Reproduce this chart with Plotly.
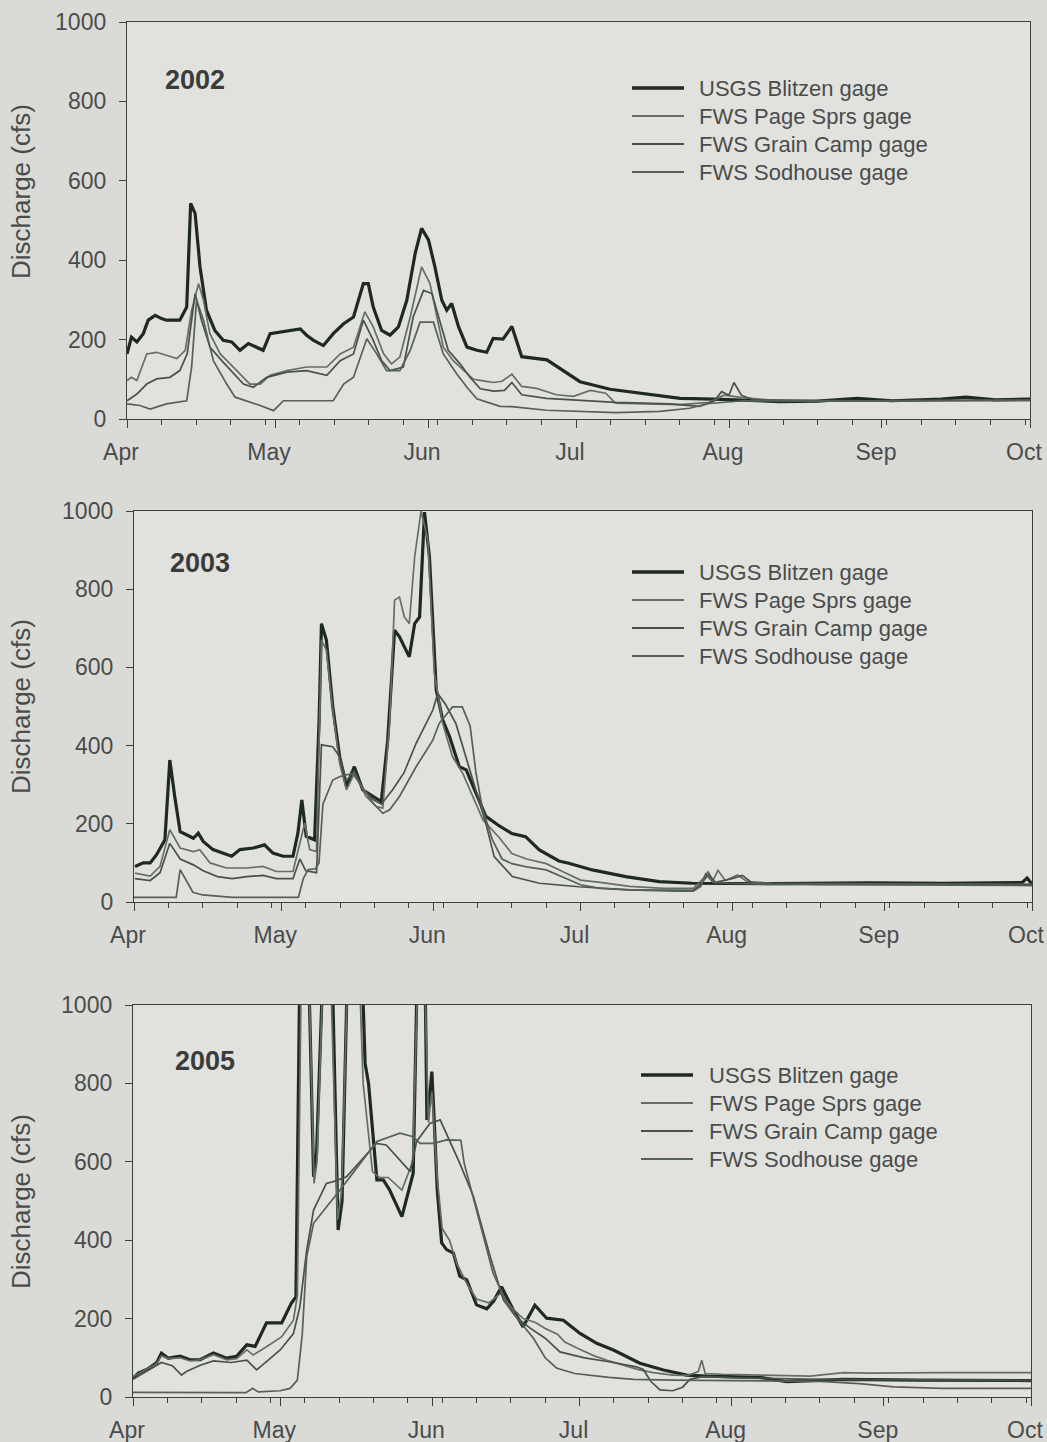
import pandas as pd
import plotly.graph_objects as go

# ---------------- DATA (day offset from Apr 1, discharge cfs) ----------------
years = [2002, 2003, 2005]
series_names = ["USGS Blitzen gage", "FWS Page Sprs gage", "FWS Grain Camp gage", "FWS Sodhouse gage"]
y_ticks = [0, 200, 400, 600, 800, 1000]

blitzen_2002 = [(0,164),(0.9,206),(2,194),(3.3,215),(4.3,249),(5.7,261),(7,253),(8,249),(10.7,249),(12.1,282),
                (12.9,543),(13.8,518),(14.8,383),(16.1,274),(17.8,223),(19.5,198),(21.2,194),(22.9,173),(24.6,190),
                (26.3,181),(27.6,173),(29,215),(31,219),(33,223),(35.1,227),(36.4,211),(37.8,198),(39.8,185),
                (41.8,215),(43.9,240),(45.9,257),(47.9,341),(48.9,341),(49.9,282),(51.6,223),(53.3,211),(55,232),
                (56.7,299),(58.4,417),(59.7,480),(61.1,451),(62.4,383),(63.8,299),(64.8,274),(65.8,291),(67.2,232),
                (68.9,181),(70.9,173),(72.9,168),(74.2,203),(76.2,201),(78,233),(80,157),(85.1,149),(91.8,94),
                (97.9,75),(104.6,65),(112.1,52),(118.8,50),(125,48),(132.3,44),(140,45),(148,52),(155,46),
                (165,50),(170,55),(176,48),(183,50)]
page_2002 = [(0,97),(0.9,105),(2,97),(4,164),(6,168),(8,160),(10.1,152),(11.8,173),(13.1,274),(14.5,341),
             (15.5,299),(16.8,215),(18.9,164),(20.9,139),(22.9,114),(24.9,88),(27,88),(29,110),(32.4,122),
             (36.4,131),(40.5,131),(43.2,164),(45.9,181),(48.2,270),(49.9,232),(52,164),(53.6,139),(55.3,156),
             (57.4,257),(59.7,383),(61.4,341),(62.8,257),(64.1,181),(66.1,147),(68.2,122),(70.2,100),(72.2,96),
             (74.3,92),(76,95),(78,113),(80,82),(83,77),(87,61),(90.5,57),(93.9,72),(97,65),(99,40),(105,38),
             (112,36),(118,42),(121,60),(124,55),(130,48),(140,45),(160,47),(183,48)]
grain_2002 = [(0,46),(2,63),(4,88),(6,101),(8.7,105),(10.7,122),(12.2,164),(13.8,316),(15.1,249),(16.8,181),
              (19.2,147),(21.6,114),(23.6,88),(25.6,80),(28.3,105),(32.4,118),(36.4,122),(40.5,110),(43.2,147),
              (45.9,164),(47.9,249),(49.9,198),(51.6,147),(53.3,122),(56,131),(58,257),(60.1,324),(61.8,316),
              (63.4,249),(65.1,173),(67.5,139),(69.5,105),(71.6,76),(74.3,70),(76.5,72),(78,92),(80,61),(85,52),
              (92,47),(99,42),(110,38),(116,32),(119,45),(120.5,69),(122,60),(123,92),(124.5,60),(127,48),
              (150,46),(183,48)]
sod_2002 = [(0,38),(2.6,34),(4.7,25),(8,38),(12.1,46),(13.1,131),(14.1,300),(15.5,249),(17.5,147),(20.2,88),
            (21.9,55),(24.3,46),(27,34),(29.7,21),(31.7,46),(36.4,46),(41.8,46),(43.9,88),(45.9,105),(48.6,202),
            (50.6,164),(52.6,122),(55.3,122),(57.4,173),(59.4,244),(62.1,244),(64.1,164),(66.8,114),(68.9,80),
            (70.9,51),(75.6,32),(78,31),(85,22),(99,16),(108,19),(114,27),(118,39),(125,46),(140,45),(183,46)]

blitzen_2003 = [(0.2,91),(1.9,100),(3.3,100),(4.6,121),(6.3,159),(7.3,363),(8.3,270),(9.4,180),(10.7,172),
                (12.1,163),(13.1,176),(14.1,155),(16.1,134),(18.2,125),(19.9,117),(21.6,134),(24.3,138),
                (26.6,146),(28.3,125),(30.4,117),(32.4,117),(33.4,176),(34.2,261),(35.1,168),(36.8,159),
                (37.7,457),(38.2,712),(39.2,670),(40.5,500),(41.9,372),(43.3,295),(44.9,346),(46.6,287),
                (48.7,270),(50.4,257),(51.7,414),(53.1,695),(54.1,678),(56.1,627),(57.2,712),(58.2,729),
                (59.2,997),(60.2,883),(61.6,542),(62.9,466),(64.3,423),(66.3,346),(67.7,338),(69.7,278),
                (71.7,219),(74.4,195),(77,175),(79.8,167),(82.6,133),(86.6,105),(88.6,99),(93.4,82),(100.2,65),
                (107,52),(113.7,48),(130,47),(150,49),(165,48),(175,50),(181,50),(182,61),(183,46)]
page_2003 = [(0.2,74),(3.3,66),(5.3,91),(7.3,185),(9.4,138),(12.1,129),(13.4,134),(15.5,100),(18.8,87),
             (22.9,87),(26.3,91),(29,78),(32.4,78),(33.8,151),(34.8,202),(35.8,134),(37.2,129),(38.2,670),
             (39.2,644),(40.5,491),(41.9,355),(43.3,287),(44.9,329),(47.3,270),(49.4,244),(50.7,240),(52.1,457),
             (53.1,772),(54.1,780),(55.1,729),(56.1,712),(57.2,883),(58.5,1000),(59.9,925),(61.2,585),(62.9,457),
             (64.9,372),(67,329),(69,270),(71.1,210),(74.4,165),(77,124),(80,110),(84,98),(87,80),(91,56),
             (95,50),(101,40),(108,35),(114,35),(116,60),(117,77),(118,55),(119,81),(120.5,55),(123,69),
             (125,52),(130,48),(183,45)]
grain_2003 = [(0.2,60),(3.3,55),(5.3,75),(7.3,150),(9.4,110),(12.1,95),(14.1,80),(17,65),(20,60),(23,65),
              (26.3,68),(29,60),(32.4,60),(33.8,110),(35,80),(37.2,75),(38.2,402),(40.5,397),(41.9,372),
              (43.3,310),(44.9,335),(46.6,290),(48.7,262),(50.4,250),(52.7,287),(55,330),(57.5,406),(60.9,491),
              (61.9,533),(63.5,505),(65.6,456),(68.3,345),(71.7,201),(73.4,116),(77.1,65),(82.6,48),(90.7,39),
              (100.9,31),(110,30),(114,30),(115.5,45),(117,70),(118.5,50),(122,60),(124,68),(126,48),(140,45),
              (183,45)]
sod_2003 = [(0,12),(8.6,12),(9.4,83),(10.5,60),(12,25),(14,18),(17,15),(20,12),(33.5,12),(34.5,60),(35.5,83),
            (37,85),(37.7,100),(38.5,250),(40.5,312),(42,321),(44.5,329),(46,304),(48.7,253),(50.7,227),
            (52.1,236),(54.1,270),(57.5,346),(60.9,414),(62.2,457),(64.9,499),(66.9,499),(68.5,450),(69.7,329),
            (71,240),(73,160),(75,110),(77,98),(80,90),(84,82),(88,60),(91,44),(95,35),(101,31),(110,28),
            (114,28),(115.5,40),(116.5,72),(118,50),(121,48),(130,45),(183,42)]

blitzen_2005 = [(0,48),(1.1,61),(2.8,70),(4.8,87),(5.8,112),(7.2,99),(9.6,104),(11.6,95),(13.7,95),(16.4,112),
                (19.1,99),(21.1,104),(23.2,133),(24.9,129),(27.2,189),(30.3,189),(32.3,240),(33.2,255),
                (34.1,1200),(35.6,1200),(36.8,562),(37.4,620),(39,1200),(40.4,1200),(41.8,426),(42.6,500),
                (43.9,1200),(46.4,1200),(47.3,851),(48,800),(49.7,554),(51,554),(52.3,528),(54.8,460),(57.1,571),
                (58.1,1200),(59.4,1200),(59.9,707),(60.4,760),(60.9,830),(61.4,700),(62,528),(62.9,393),
                (63.9,376),(65.3,367),(66.6,308),(68,299),(70,235),(72.1,225),(73.5,245),(75.1,281),(77.5,222),
                (79.5,179),(81.9,234),(84.3,201),(87.7,196),(91.1,162),(94.5,137),(97.9,120),(103.3,86),
                (108.1,69),(112.8,56),(116.9,53),(127.8,50),(133.2,39),(144.8,45),(160,43),(183,42)]
page_2005 = [(0,52),(1.1,60),(2.8,72),(4.8,85),(5.8,105),(7.2,98),(9.6,100),(11.6,92),(13.7,95),(16.4,108),
             (19.1,95),(21.1,98),(23.2,120),(24.5,107),(27.2,128),(30.3,154),(32.7,196),(33.5,260),(34.4,1200),
             (35.6,1200),(36.9,545),(37.5,600),(39,1200),(40,1200),(41.7,452),(42.5,520),(44,1200),(45.8,1200),
             (46.9,800),(48.8,575),(50.2,560),(52,560),(54.8,528),(57,600),(58.3,1200),(59.2,1200),(60.2,700),
             (60.9,780),(62,560),(63,430),(64.5,400),(66,340),(68,290),(70,250),(72.5,240),(75,265),(77,230),
             (79.5,200),(82,190),(84,175),(86.5,160),(88,140),(91,122),(94,105),(97,92),(100,80),(103,70),
             (106,62),(110,56),(113,55),(115.2,65),(115.9,94),(116.6,60),(120,58),(128,55),(138,53),
             (144.8,62),(150,61),(165,62),(183,62)]
grain_2005 = [(0,45),(2.8,65),(5.8,88),(8,80),(9.9,56),(11,66),(13.7,81),(16.4,92),(20,88),(23.2,94),
              (25.2,69),(27.2,90),(30,120),(32.7,162),(34,230),(35.4,375),(36.8,477),(39.4,545),(41,550),
              (43.5,562),(47.6,618),(49.6,647),(51.6,643),(54.4,605),(56.5,575),(57.8,652),(60.5,698),
              (62.6,707),(64.5,656),(66.6,596),(69.4,511),(72.8,358),(75.5,247),(78,205),(81,175),(84,150),
              (87,115),(92,100),(97,90),(102.6,77),(104,70),(105.5,40),(107.4,18),(110,16),(112,25),(113.5,45),
              (116,52),(125,48),(140,45),(160,44),(183,42)]
sod_2005 = [(0,12),(10,11),(20,11),(23,11),(24.4,22),(25.5,13),(30,16),(32,22),(33.5,43),(34.5,162),(35.4,358),
            (36.8,443),(39.5,486),(42.2,528),(46.3,596),(49.7,652),(54.4,673),(57.1,664),(58.5,647),(61.2,647),
            (63.9,656),(66.8,655),(67.5,596),(70.7,443),(73.4,315),(76.2,239),(79,190),(81.6,150),(84,100),
            (86.3,74),(90,60),(97,50),(102,45),(110,43),(120,42),(130,42),(140,40),(148,34),(155,26),(165,22),
            (183,22)]

data_by_year = {
    2002: [blitzen_2002, page_2002, grain_2002, sod_2002],
    2003: [blitzen_2003, page_2003, grain_2003, sod_2003],
    2005: [blitzen_2005, page_2005, grain_2005, sod_2005],
}

# ---------------- STYLE / LAYOUT ----------------
W, H = 1047, 1442
ML, MR, MT, MB = 120, 10, 22, 45
PW, PH = W - ML - MR, H - MT - MB
BG = "rgb(218,219,215)"


def fx(px):
    return (px - ML) / PW


def fy(py):
    return (H - MB - py) / PH


panel_px = [  # (x_left, x_right, y_top, y_bottom) in pixels
    (127, 1030, 22, 419),
    (134, 1032, 511, 902),
    (133, 1031, 1005, 1397),
]
legend_px = [(632, 697, 88), (632, 697, 572), (641, 707, 1075)]  # line start, text start, first row y
legend_row = 28
legend_line_len = 52
year_px = [(195, 80), (200, 563), (205, 1061)]
ytitle_px = [(21, 192), (21, 707), (21, 1202)]

line_colors = ["#1f2823", "#666d69", "#49514c", "#575f5b"]
line_widths = [3.2, 1.7, 1.7, 1.7]
axis_color = "#3c3f3d"
text_color = "#4a4c4b"
FONT = "Liberation Sans, Arial, Helvetica, sans-serif"

fig = go.Figure()
shapes = []

for i, yr in enumerate(years):
    suffix = "" if i == 0 else str(i + 1)
    base = pd.Timestamp(f"{yr}-04-01")
    for s, pairs in enumerate(data_by_year[yr]):
        xs = [base + pd.Timedelta(days=d) for d, _ in pairs]
        ys = [v for _, v in pairs]
        fig.add_trace(go.Scatter(
            x=xs, y=ys, mode="lines", name=series_names[s],
            line=dict(color=line_colors[s], width=line_widths[s]),
            xaxis="x" + suffix, yaxis="y" + suffix, showlegend=False,
        ))
    xl, xr, yt, yb = panel_px[i]
    common = dict(showline=True, linecolor=axis_color, linewidth=1.3, mirror=True,
                  ticks="outside", tickcolor=axis_color, tickwidth=1.3, showgrid=False,
                  zeroline=False, ticklabeloverflow="allow", automargin=False,
                  tickfont=dict(family=FONT, size=23, color=text_color))
    fig.update_layout(**{
        "xaxis" + suffix: dict(
            type="date", domain=[fx(xl), fx(xr)], anchor="y" + suffix,
            range=[f"{yr}-04-01", f"{yr}-10-01"],
            tick0=f"{yr}-04-01", dtick="M1", tickformat="%b", ticklen=8,
            ticklabelstandoff=4, ticklabelshift=-6,
            minor=dict(ticks="outside", ticklen=5, tickcolor=axis_color, tickwidth=1,
                       dtick=7 * 86400000, tick0=f"{yr}-04-01", showgrid=False),
            **common),
        "yaxis" + suffix: dict(
            domain=[fy(yb), fy(yt)], anchor="x" + suffix, range=[0, 1000],
            tickvals=y_ticks, ticklen=7, ticklabelstandoff=8, **common),
    })
    # legend (drawn in the figure's own coordinates)
    lx0, tx0, ly0 = legend_px[i]
    for s, name in enumerate(series_names):
        yy = fy(ly0 + s * legend_row)
        shapes.append(dict(type="line", xref="paper", yref="paper",
                           x0=fx(lx0), x1=fx(lx0 + legend_line_len), y0=yy, y1=yy,
                           line=dict(color=line_colors[s], width=line_widths[s] + 0.3)))
        fig.add_annotation(x=fx(tx0), y=yy, xref="paper", yref="paper", text=name,
                           showarrow=False, xanchor="left", yanchor="middle",
                           font=dict(family=FONT, size=22, color=text_color))
    fig.add_annotation(x=fx(year_px[i][0]), y=fy(year_px[i][1]), xref="paper", yref="paper",
                       text=f"<b>{yr}</b>", showarrow=False, xanchor="center", yanchor="middle",
                       font=dict(family=FONT, size=27, color="#3a3c3b"))
    fig.add_annotation(x=fx(ytitle_px[i][0]), y=fy(ytitle_px[i][1]), xref="paper", yref="paper",
                       text="Discharge (cfs)", textangle=-90, showarrow=False,
                       xanchor="center", yanchor="middle",
                       font=dict(family=FONT, size=26, color=text_color))

fig.update_layout(
    width=W, height=H, margin=dict(l=ML, r=MR, t=MT, b=MB, autoexpand=False),
    paper_bgcolor=BG, plot_bgcolor="rgb(225,226,222)",
    font=dict(family=FONT, color=text_color), shapes=shapes,
)

fig.write_html(
    "out.html",
    config={"displayModeBar": False},
    post_script=("document.body.style.margin='0';document.body.style.padding='0';"
                 "document.body.style.overflow='hidden';"
                 f"document.body.style.background='{BG}';"),
)
